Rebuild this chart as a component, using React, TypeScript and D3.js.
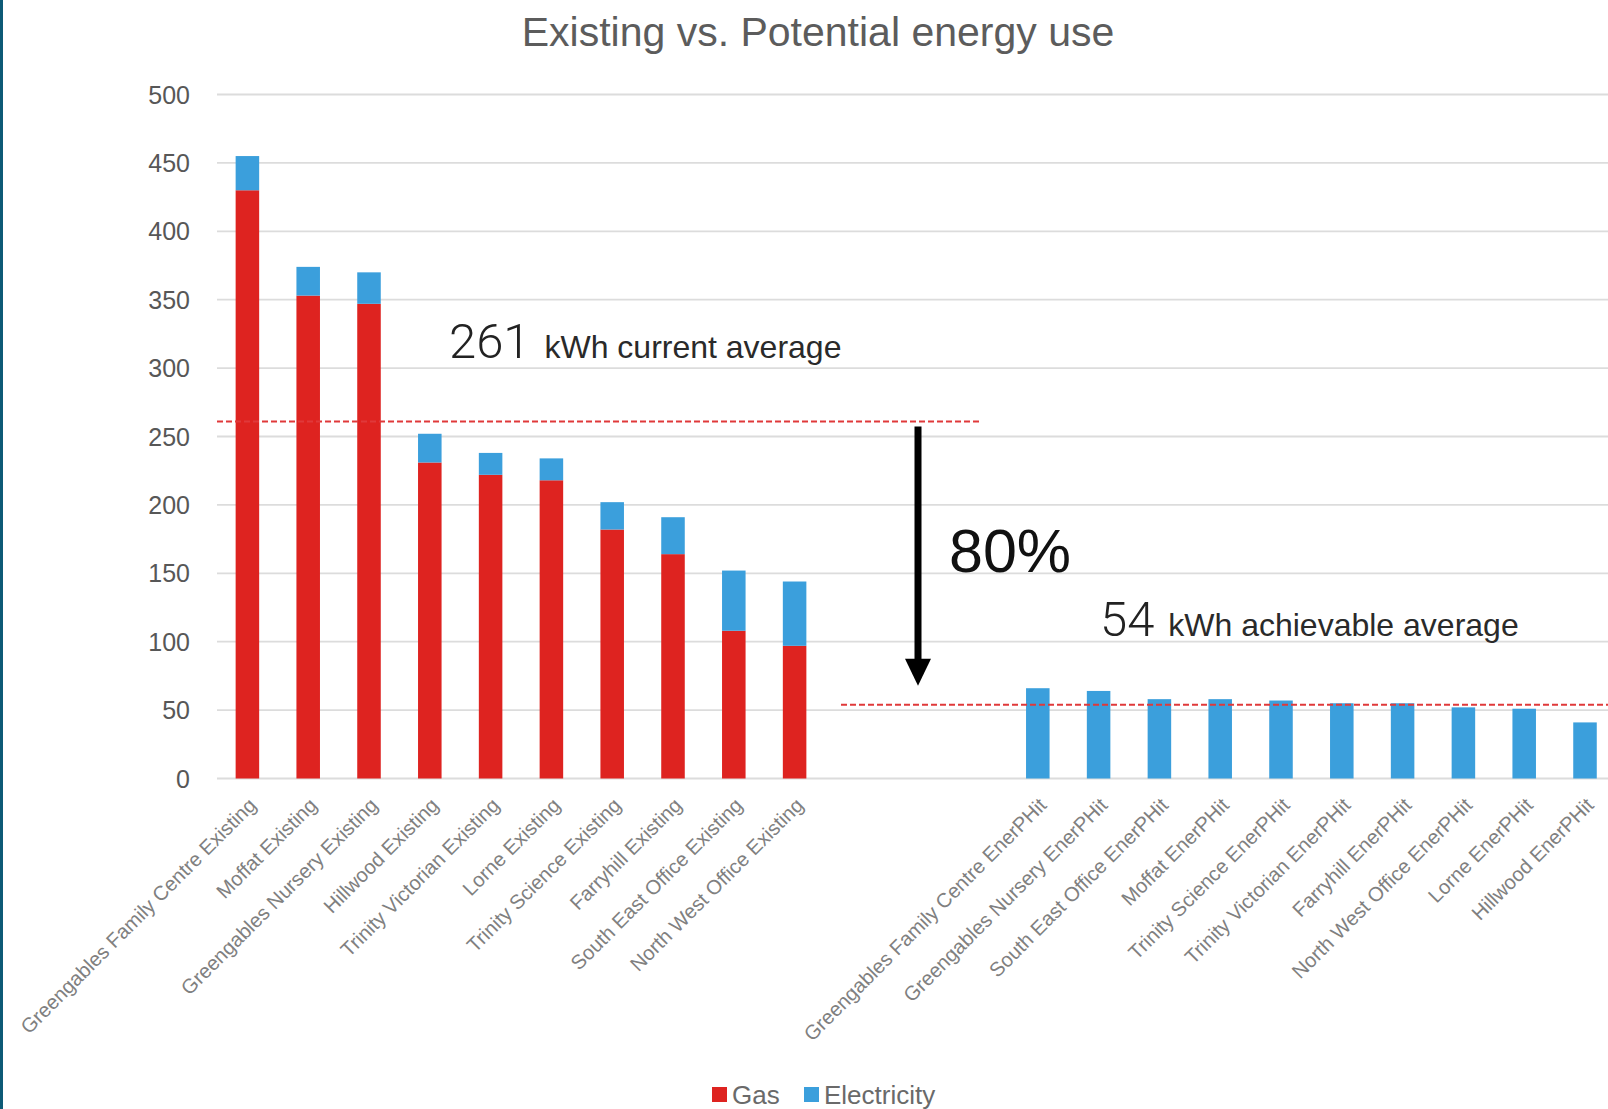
import React from "react";
import * as d3 from "d3";

// Existing buildings: gas + electricity (kWh/m²·yr)
const existingNames = [
  "Greengables Family Centre Existing",
  "Moffat Existing",
  "Greengables Nursery Existing",
  "Hillwood Existing",
  "Trinity Victorian Existing",
  "Lorne Existing",
  "Trinity Science Existing",
  "Farryhill Existing",
  "South East Office Existing",
  "North West Office Existing",
];
const existingGas = [430, 353, 347, 231, 222, 218, 182, 164, 108, 97];
const existingElectricity = [25, 21, 23, 21, 16, 16, 20, 27, 44, 47];

// EnerPHit retrofit targets: all-electric
const enerphitNames = [
  "Greengables Family Centre EnerPHit",
  "Greengables Nursery EnerPHit",
  "South East Office EnerPHit",
  "Moffat EnerPHit",
  "Trinity Science EnerPHit",
  "Trinity Victorian EnerPHit",
  "Farryhill EnerPHit",
  "North West Office EnerPHit",
  "Lorne EnerPHit",
  "Hillwood EnerPHit",
];
const enerphitGas = [0, 0, 0, 0, 0, 0, 0, 0, 0, 0];
const enerphitElectricity = [66, 64, 58, 58, 57, 55, 55, 52, 51, 41];

const gapSlots = ["gap-1", "gap-2", "gap-3"];

const yTicks = [0, 50, 100, 150, 200, 250, 300, 350, 400, 450, 500];

const currentAverage = 261;
const achievableAverage = 54;
const reductionLabel = "80%";

const seriesNames = ["Gas", "Electricity"];
const seriesColors = ["#de2320", "#3b9fdc"];

const W = 1608;
const H = 1109;
const FONT = "'Liberation Sans', Arial, Helvetica, sans-serif";

type Row = { key: string; label: string; gas: number; elec: number };

export default function App() {
  const rows: Row[] = [
    ...existingNames.map((n, i) => ({ key: n, label: n, gas: existingGas[i], elec: existingElectricity[i] })),
    ...gapSlots.map((g) => ({ key: g, label: "", gas: 0, elec: 0 })),
    ...enerphitNames.map((n, i) => ({ key: n, label: n, gas: enerphitGas[i], elec: enerphitElectricity[i] })),
  ];

  const plotLeft = 217;
  const step = 60.8;
  const x = d3
    .scaleBand<string>()
    .domain(rows.map((r) => r.key))
    .range([plotLeft, plotLeft + step * rows.length])
    .paddingInner(0.613)
    .paddingOuter(0.3065);

  const y = d3.scaleLinear().domain([0, 500]).range([778.5, 94.5]);

  const stack = d3
    .stack<Row>()
    .keys(["gas", "elec"])(rows.filter((r) => r.label !== ""));

  const yCur = y(currentAverage);
  const yAch = y(achievableAverage);
  const arrowX = 918;
  const arrowTop = yCur + 5;
  const arrowTip = yAch - 19;

  return (
    <svg
      width={W}
      height={H}
      style={{ position: "absolute", left: 0, top: 0, background: "#fff", fontFamily: FONT }}
    >
      <rect x={0} y={0} width={W} height={H} fill="#ffffff" />
      <rect x={0} y={0} width={3} height={H} fill="#0d5a76" />

      <text x={818} y={46} textAnchor="middle" fontSize={41} fill="#5c5c5c">
        Existing vs. Potential energy use
      </text>

      {/* gridlines and y tick labels */}
      {yTicks.map((t) => (
        <g key={t}>
          <line x1={plotLeft} x2={W} y1={y(t)} y2={y(t)} stroke="#dcdcdc" strokeWidth={1.8} />
          <text x={190} y={y(t)} dy="0.36em" textAnchor="end" fontSize={25} fill="#575757">
            {t}
          </text>
        </g>
      ))}

      {/* stacked bars */}
      {stack.map((layer, li) => (
        <g key={layer.key} fill={seriesColors[li]}>
          {layer.map((d) => {
            const h = y(d[0]) - y(d[1]);
            if (h <= 0) return null;
            return (
              <rect
                key={d.data.key}
                x={x(d.data.key)}
                y={y(d[1])}
                width={x.bandwidth()}
                height={h}
              />
            );
          })}
        </g>
      ))}

      {/* category labels */}
      {rows
        .filter((r) => r.label !== "")
        .map((r) => {
          const cx = (x(r.key) as number) + x.bandwidth() / 2 + 10;
          const cy = y(0) + 28;
          return (
            <text
              key={r.key}
              transform={`translate(${cx},${cy}) rotate(-45)`}
              textAnchor="end"
              fontSize={20.2}
              fill="#808080"
            >
              {r.label}
            </text>
          );
        })}

      {/* average lines */}
      <line x1={plotLeft} x2={981} y1={yCur} y2={yCur} stroke="#e0393a" strokeWidth={2} strokeDasharray="6 3" />
      <line x1={841} x2={W} y1={yAch} y2={yAch} stroke="#e0393a" strokeWidth={2} strokeDasharray="6 3" />

      <text x={449} y={358} fill="#222">
        <tspan fontFamily="Roboto, sans-serif" fontWeight={300} fontSize={49}>
          {currentAverage}
        </tspan>
        <tspan fontSize={32} dx={5} fill="#2a2a2a">
          {" kWh current average"}
        </tspan>
      </text>

      <text x={1100} y={636} fill="#222">
        <tspan fontFamily="Roboto, sans-serif" fontWeight={300} fontSize={49}>
          {achievableAverage}
        </tspan>
        <tspan fontSize={32} dx={5} fill="#2a2a2a">
          {" kWh achievable average"}
        </tspan>
      </text>

      {/* reduction arrow */}
      <line x1={arrowX} x2={arrowX} y1={arrowTop} y2={arrowTip - 24} stroke="#000" strokeWidth={7} />
      <polygon
        points={`${arrowX - 13},${arrowTip - 27} ${arrowX + 13},${arrowTip - 27} ${arrowX},${arrowTip}`}
        fill="#000"
      />
      <text x={949} y={572} fontSize={61} fill="#111">
        {reductionLabel}
      </text>

      {/* legend */}
      {seriesNames.map((s, i) => {
        const lx = i === 0 ? 712 : 804;
        return (
          <g key={s}>
            <rect x={lx} y={1087} width={15} height={15} fill={seriesColors[i]} />
            <text x={lx + 20} y={1104} fontSize={26} fill="#6a6a6a">
              {s}
            </text>
          </g>
        );
      })}
    </svg>
  );
}
